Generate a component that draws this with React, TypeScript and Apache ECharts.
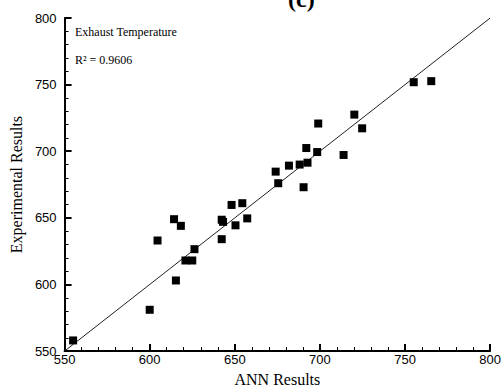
import React, { useEffect, useRef } from "react";
import * as echarts from "echarts";

const annX: number[] = [555, 600, 604.6, 614.3, 615.4, 618.3, 621, 625, 626.3, 642.3, 642.3, 643.1, 648.1, 650.4, 654.4, 657.3, 674, 675.5, 681.8, 688.1, 690.4, 692, 692.7, 698.4, 699, 713.9, 720.2, 724.8, 755.1, 765.4];
const expY: number[] = [558, 581, 633, 649, 603, 644, 618, 618, 626.5, 634, 648.6, 647, 659.7, 644.4, 661, 649.6, 684.7, 676, 689.2, 690, 673, 702.4, 691.4, 699.4, 720.8, 697.2, 727.5, 717.2, 751.8, 752.6];
const fitLine: number[][] = [[550, 550], [800, 800]];
const axisMin = 550;
const axisMax = 800;
const axisStep = 50;
const titleText = "(c)";
const seriesLabel = "Exhaust Temperature";
const r2Text = "R\u00B2 = 0.9606";

export default function App() {
  const ref = useRef<HTMLDivElement>(null);
  useEffect(() => {
    if (!ref.current) return;
    const chart = echarts.init(ref.current, undefined, { renderer: "svg" });
    const points = annX.map((x, i) => [x, expY[i]]);
    const axisCommon = {
      type: "value" as const,
      min: axisMin,
      max: axisMax,
      interval: axisStep,
      nameLocation: "middle" as const,
      nameTextStyle: { fontFamily: "Liberation Serif", fontSize: 16, color: "#000" },
      axisLine: { show: true, lineStyle: { color: "#000", width: 2 } },
      axisTick: { show: true, inside: true, length: 7, lineStyle: { color: "#000", width: 2 } },
      minorTick: { show: true, splitNumber: 5, length: 4, lineStyle: { color: "#000", width: 1 } },
      splitLine: { show: false },
      axisLabel: { fontFamily: "Liberation Sans", fontSize: 13, color: "#000" },
    };
    chart.setOption({
      animation: false,
      backgroundColor: "#fff",
      grid: { left: 56, right: 11, top: 18, bottom: 35, containLabel: false },
      xAxis: {
        ...axisCommon,
        name: "ANN Results",
        nameGap: 17,
        axisLabel: { ...axisCommon.axisLabel, margin: 2 },
      },
      yAxis: {
        ...axisCommon,
        name: "Experimental Results",
        nameGap: 29,
        axisLabel: { ...axisCommon.axisLabel, margin: 8 },
      },
      graphic: [
        {
          type: "text",
          left: 288,
          top: -13,
          style: { text: titleText, fontFamily: "Liberation Serif", fontSize: 24, fontWeight: "bold", fill: "#000" },
        },
        {
          type: "text",
          left: 75,
          top: 26,
          style: { text: seriesLabel, fontFamily: "Liberation Serif", fontSize: 12, fill: "#000" },
        },
        {
          type: "text",
          left: 75,
          top: 54,
          style: { text: r2Text, fontFamily: "Liberation Serif", fontSize: 12, fill: "#000" },
        },
      ],
      series: [
        {
          type: "line",
          data: fitLine,
          symbol: "none",
          lineStyle: { color: "#222", width: 1 },
          silent: true,
          z: 1,
        },
        {
          type: "scatter",
          data: points,
          symbol: "rect",
          symbolSize: 8,
          itemStyle: { color: "#000", opacity: 1 },
          z: 2,
        },
      ],
    });
    return () => chart.dispose();
  }, []);
  return <div ref={ref} style={{ width: 504, height: 392, position: "absolute", left: 0, top: 0 }} />;
}
